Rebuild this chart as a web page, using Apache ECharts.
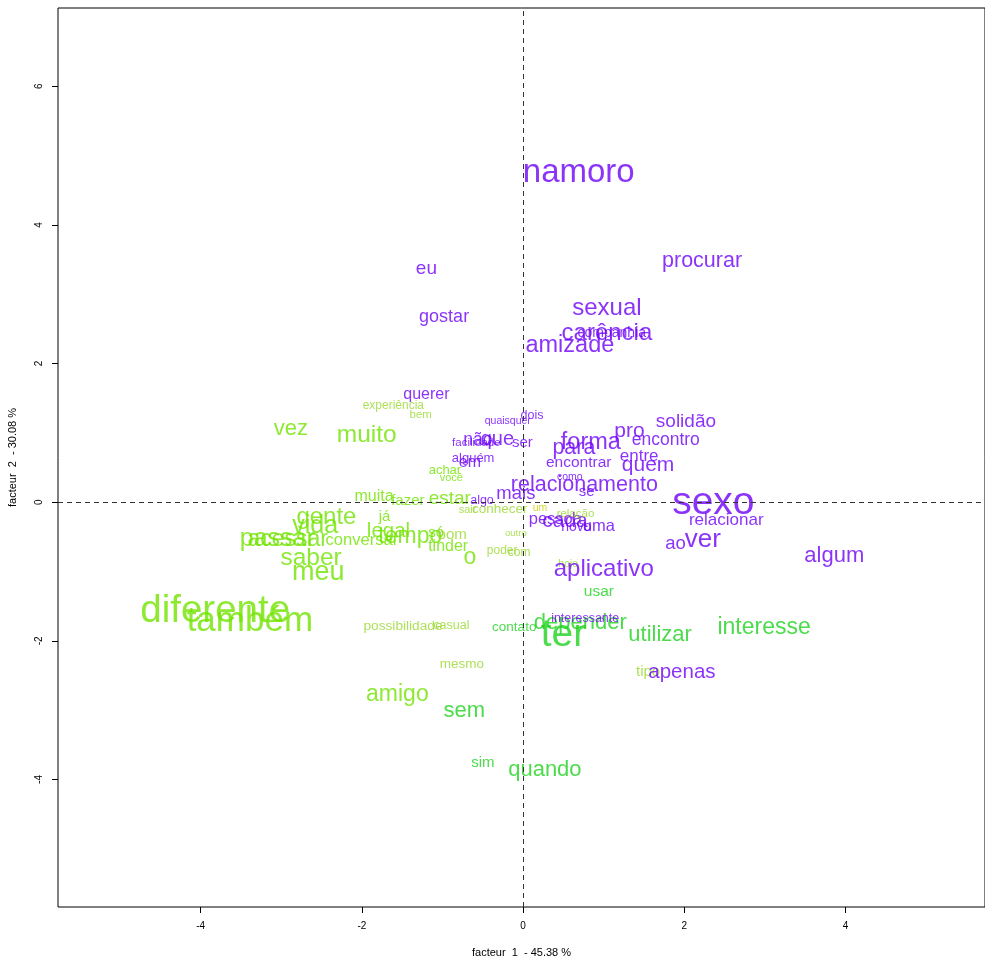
<!DOCTYPE html>
<html>
<head>
<meta charset="utf-8">
<script src="https://cdn.jsdelivr.net/npm/echarts@6/dist/echarts.min.js"></script>
<style>
  html, body { margin: 0; padding: 0; background: #fff; overflow: hidden; }
  #chart { width: 985px; height: 959px; }
</style>
</head>
<body>
<div id="chart"></div>
<script>
// mots de l'AFC
const words = ["namoro", "procurar", "eu", "gostar", "sexual", "carência", "companhia", "amizade",
  "querer", "experiência", "bem", "vez", "muito", "dois", "quaisquer", "facilidade", "não", "que",
  "ser", "alguém", "em", "achar", "você", "forma", "para", "pro", "solidão", "encontro", "entre",
  "quem", "encontrar", "como", "relacionamento", "se", "mais", "algo", "muita", "fazer", "estar",
  "sexo", "relacionar", "sair", "conhecer", "um", "pessoa", "cada", "relação", "novo", "uma",
  "gente", "vida", "já", "legal", "tempo", "conversar", "só", "bom", "outro", "tinder", "poder",
  "com", "o", "passar", "acessar", "saber", "meu", "ao", "ver", "algum", "hoje", "aplicativo",
  "usar", "diferente", "também", "possibilidade", "casual", "contato", "depender", "interessante",
  "ter", "utilizar", "interesse", "mesmo", "tipo", "apenas", "amigo", "sem", "sim", "quando"];

// facteur 1
const f1 = [0.69, 2.22, -1.20, -0.98, 1.04, 1.04, 1.10, 0.58,
  -1.20, -1.61, -1.27, -2.88, -1.94, 0.11, -0.19, -0.58, -0.56, -0.32,
  -0.01, -0.62, -0.66, -0.97, -0.89, 0.84, 0.63, 1.32, 2.02, 1.77, 1.44,
  1.55, 0.69, 0.58, 0.76, 0.79, -0.09, -0.51, -1.85, -1.43, -0.91,
  2.36, 2.52, -0.69, -0.29, 0.21, 0.40, 0.52, 0.65, 0.66, 0.94,
  -2.44, -2.58, -1.72, -1.67, -1.40, -2.00, -1.08, -0.88, -0.09, -0.93, -0.26,
  -0.05, -0.66, -3.05, -2.92, -2.63, -2.54, 1.89, 2.23, 3.86, 0.56, 1.00,
  0.94, -3.82, -3.39, -1.49, -0.89, -0.11, 0.71, 0.77,
  0.50, 1.70, 2.99, -0.76, 1.55, 1.97, -1.56, -0.73, -0.50, 0.27];

// facteur 2
const f2 = [4.76, 3.49, 3.38, 2.68, 2.81, 2.45, 2.46, 2.27,
  1.56, 1.41, 1.28, 1.07, 0.98, 1.26, 1.18, 0.87, 0.91, 0.92,
  0.87, 0.65, 0.58, 0.48, 0.36, 0.88, 0.79, 1.04, 1.17, 0.91, 0.68,
  0.55, 0.58, 0.38, 0.26, 0.17, 0.14, 0.04, 0.10, 0.03, 0.06,
  0.00, -0.25, -0.10, -0.09, -0.07, -0.23, -0.26, -0.16, -0.35, -0.33,
  -0.20, -0.33, -0.20, -0.40, -0.48, -0.53, -0.43, -0.45, -0.43, -0.62, -0.68,
  -0.71, -0.78, -0.52, -0.52, -0.79, -1.00, -0.58, -0.53, -0.76, -0.88, -0.95,
  -1.27, -1.56, -1.70, -1.77, -1.76, -1.79, -1.73, -1.67,
  -1.90, -1.90, -1.80, -2.32, -2.44, -2.44, -2.76, -2.99, -3.75, -3.85];

// poids (taille du mot)
const weights = [33, 21.5, 19, 18, 24, 24, 14, 23.5,
  16, 12, 11.5, 22, 24.5, 12.5, 10.5, 11.5, 17.5, 20,
  15, 13, 16, 13, 11, 23.5, 21.5, 21, 19, 17.5, 17,
  21, 15.5, 10.5, 21.5, 15, 18.5, 12.5, 16, 15, 19,
  39, 17, 11, 13.5, 10.5, 16.5, 21, 11.5, 14, 16.5,
  24, 25, 15, 20.5, 23, 16.6, 15, 15, 9.5, 16, 12,
  12, 23, 25, 23, 24.5, 27, 18.5, 26, 22, 10.5, 24,
  15.5, 38.5, 35, 13.7, 12.5, 13.5, 22, 12.5,
  39, 22, 23, 13.5, 15, 20.5, 23, 22, 15, 22];

// classe de chaque mot
const classes = [1, 1, 1, 1, 1, 1, 1, 1,
  1, 4, 4, 3, 3, 1, 1, 1, 1, 1,
  1, 1, 1, 3, 3, 1, 1, 1, 1, 1, 1,
  1, 1, 1, 1, 1, 1, 1, 3, 3, 3,
  1, 1, 4, 4, 5, 1, 1, 4, 1, 1,
  3, 3, 3, 3, 3, 3, 3, 4, 4, 3, 4,
  4, 3, 3, 3, 3, 3, 1, 1, 1, 4, 1,
  2, 3, 3, 4, 4, 2, 2, 1,
  2, 2, 2, 4, 4, 1, 3, 2, 2, 2];

const classColors = { 1: "#6e00f8", 2: "#1ed21e", 3: "#72e400", 4: "#98d82c", 5: "#cccc00" };

const chart = echarts.init(document.getElementById("chart"));

const points = words.map((w, i) => ({
  value: [f1[i], f2[i]],
  name: w,
  label: { fontSize: weights[i], color: classColors[classes[i]] }
}));

const xTicks = [-4, -2, 0, 2, 4];
const yTicks = [-4, -2, 0, 2, 4, 6];

chart.setOption({
  animation: false,
  backgroundColor: "#fff",
  grid: {
    left: 58, right: 0, top: 8, bottom: 52, outerBoundsMode: "none", containLabel: false,
    show: true, borderColor: "#000", borderWidth: 1
  },
  xAxis: {
    type: "value", min: -5.77, max: 5.73,
    name: "facteur  1  - 45.38 %", nameLocation: "middle", nameGap: 40,
    nameTextStyle: { fontSize: 11, color: "#000", fontFamily: "Liberation Sans" },
    axisLine: { show: false, onZero: false },
    splitLine: { show: false },
    axisTick: { show: true, inside: false, length: 6, lineStyle: { color: "#000" }, customValues: xTicks },
    axisLabel: { fontSize: 10, color: "#000", fontFamily: "Liberation Sans", margin: 14, customValues: xTicks }
  },
  yAxis: {
    type: "value", min: -5.84, max: 7.13,
    name: "facteur  2  - 30.08 %", nameLocation: "middle", nameGap: 40, nameRotate: 90,
    nameTextStyle: { fontSize: 11, color: "#000", fontFamily: "Liberation Sans" },
    axisLine: { show: false, onZero: false },
    splitLine: { show: false },
    axisTick: { show: true, inside: false, length: 6, lineStyle: { color: "#000" }, customValues: yTicks },
    axisLabel: { fontSize: 10, color: "#000", fontFamily: "Liberation Sans", rotate: 90, margin: 14, customValues: yTicks }
  },
  series: [{
    type: "scatter",
    symbolSize: 0.1,
    itemStyle: { color: "transparent" },
    data: points,
    label: {
      show: true, position: "inside", formatter: "{b}", offset: [0, 1],
      fontFamily: "Liberation Sans"
    },
    markLine: {
      silent: true, symbol: "none", label: { show: false },
      lineStyle: { color: "#333", type: [5, 4], width: 1 },
      data: [{ xAxis: 0 }, { yAxis: 0 }]
    },
    z: 3
  }]
});
</script>
</body>
</html>
